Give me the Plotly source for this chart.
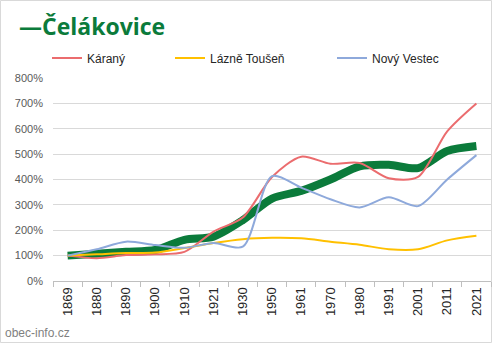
import plotly.graph_objects as go

years = ["1869", "1880", "1890", "1900", "1910", "1921", "1930", "1950",
         "1961", "1970", "1980", "1991", "2001", "2011", "2021"]

celakovice = [100, 107, 115, 122, 162, 175, 240, 325, 355, 400, 452, 458, 445, 512, 532]
karany = [100, 90, 102, 105, 115, 195, 250, 410, 490, 462, 465, 405, 410, 590, 700]
lazne_tousen = [100, 105, 110, 112, 130, 150, 165, 170, 168, 155, 143, 125, 125, 160, 178]
novy_vestec = [100, 125, 155, 142, 131, 150, 135, 413, 368, 322, 290, 330, 295, 400, 496]

GREEN = "#0B7B3B"
RED = "#EB6C6E"
YELLOW = "#FFC000"
BLUE = "#8EA9DB"

W, H = 492, 343
L, R, T, B = 53, 1, 78, 62
PW, PH = W - L - R, H - T - B


def px_x(p):
    return (p - L) / PW


def px_y(p):
    return 1 - (p - T) / PH


fig = go.Figure()

fig.add_trace(go.Scatter(
    x=years, y=celakovice, name="Čelákovice", mode="lines",
    line=dict(color=GREEN, width=8, shape="spline", smoothing=0.8),
    showlegend=False,
))

series = [
    ("Káraný", karany, RED, "legend", 55),
    ("Lázně Toušeň", lazne_tousen, YELLOW, "legend2", 178),
    ("Nový Vestec", novy_vestec, BLUE, "legend3", 340),
]
legends = {}
for name, vals, color, lg, lx in series:
    fig.add_trace(go.Scatter(
        x=years, y=vals, name=name, mode="lines",
        line=dict(color=color, width=2, shape="spline", smoothing=0.8),
        legend=lg,
    ))
    legends[lg] = dict(
        x=px_x(lx - 8), y=px_y(58), xanchor="left", yanchor="middle",
        orientation="h", bgcolor="rgba(0,0,0,0)", borderwidth=0,
        font=dict(family="Liberation Sans, Arial, sans-serif", size=12, color="#262626"),
        itemwidth=30,
    )

fig.update_layout(
    width=W, height=H,
    margin=dict(l=L, r=R, t=T, b=B),
    paper_bgcolor="white", plot_bgcolor="white",
    font=dict(family="Liberation Sans, Arial, sans-serif"),
    **legends,
    xaxis=dict(
        type="category", tickson="boundaries", ticks="outside", ticklen=5,
        tickcolor="#BFBFBF", showline=True, linecolor="#BFBFBF", linewidth=1,
        showgrid=False, tickangle=-90,
        tickfont=dict(size=13, color="#262626"),
        range=[-0.5, 14.5],
    ),
    yaxis=dict(
        range=[0, 800], dtick=100, ticksuffix="%", showgrid=True,
        gridcolor="#D9D9D9", gridwidth=1, zeroline=False, showline=False,
        tickfont=dict(size=11, color="#595959"), ticks="", ticklabelstandoff=9,
    ),
    annotations=[
        dict(text="<b>—Čelákovice</b>", xref="paper", yref="paper",
             x=px_x(17), y=px_y(26), xanchor="left", yanchor="middle",
             showarrow=False,
             font=dict(family="Open Sans, sans-serif", size=23, color=GREEN)),
        dict(text="obec-info.cz", xref="paper", yref="paper",
             x=px_x(3), y=px_y(333), xanchor="left", yanchor="middle",
             showarrow=False,
             font=dict(family="Liberation Sans, Arial, sans-serif", size=12, color="#7F7F7F")),
    ],
    shapes=[
        dict(type="rect", xref="paper", yref="paper",
             x0=px_x(0.5), x1=px_x(W - 0.5), y0=px_y(H - 0.5), y1=px_y(0.5),
             line=dict(color="#D9D9D9", width=1), fillcolor="rgba(0,0,0,0)",
             layer="below"),
    ],
)

fig.write_html("out.html")
